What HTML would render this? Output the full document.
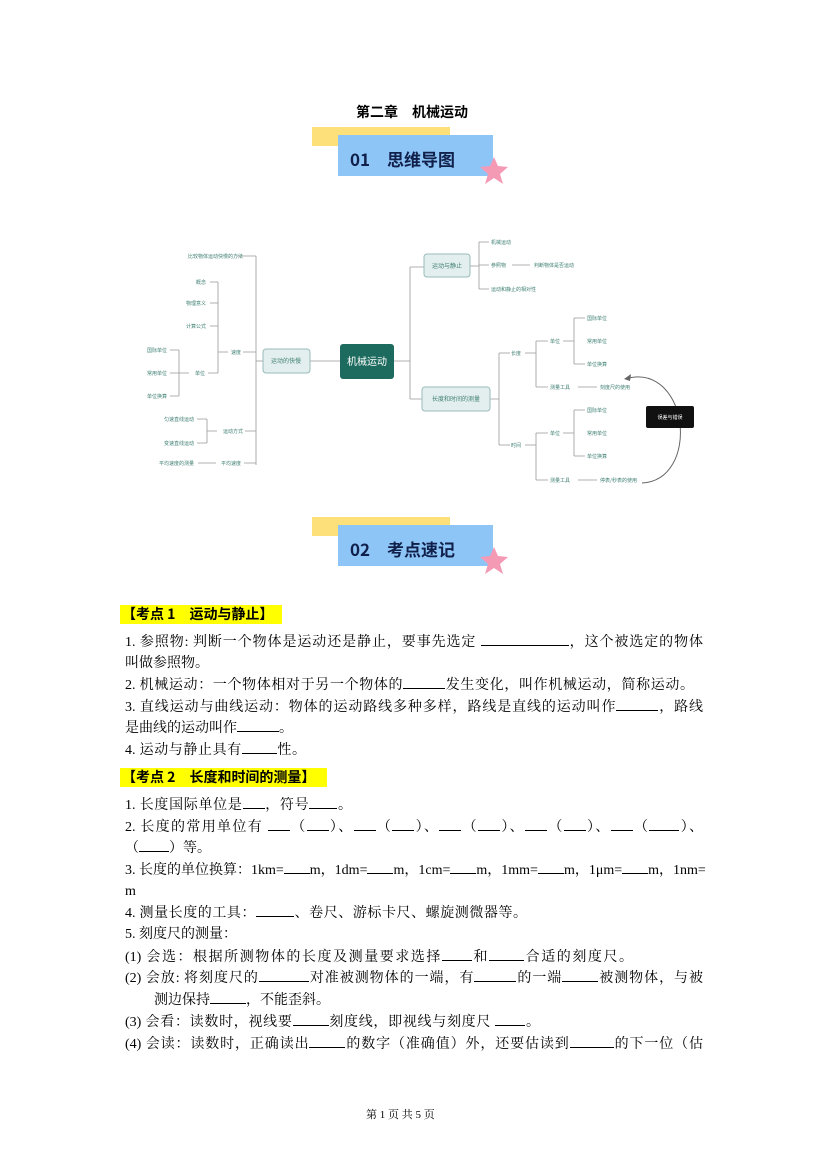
<!DOCTYPE html>
<html><head><meta charset="utf-8">
<style>
*{margin:0;padding:0}
body{width:827px;height:1169px;position:relative;background:#fff;font-family:"Liberation Serif","Noto Serif CJK SC","Noto Sans CJK SC",serif;color:#000;overflow:hidden}
.a{position:absolute;white-space:nowrap}
.t{font-size:14px;left:125px;line-height:18px}
.j{text-align:justify;text-align-last:justify}
.b{display:inline-block;border-bottom:1px solid #000;height:12px;vertical-align:baseline}
.h{background:#ffff00;font-weight:bold;font-size:14px;line-height:19px;padding:0 2px;font-family:"Noto Sans CJK SC",sans-serif}
.ban{position:absolute}
.mm text{font-family:"Noto Sans CJK SC",sans-serif;font-size:5px;fill:#3f7f72}
</style></head><body>
<div class="a" style="left:356px;top:102px;font-size:14px;font-weight:bold;font-family:'Noto Sans CJK SC',sans-serif">第二章　机械运动</div>

<div class="ban" style="left:312px;top:127px;width:138px;height:19px;background:#fde07a"></div>
<div class="ban" style="left:338px;top:135px;width:155px;height:41px;background:#8ec5f7"></div>
<div class="a" style="left:350px;top:146px;font-size:17px;font-weight:bold;color:#10204a;font-family:'Noto Sans CJK SC',sans-serif">01　思维导图</div>
<svg class="ban" style="left:478px;top:156px" width="32" height="30" viewBox="-15 -15 30 30"><polygon points="0,-14 4,-5 14,-4 6,3 9,13 0,7 -9,13 -6,3 -14,-4 -4,-5" fill="#f59ab5"/></svg>

<div class="ban" style="left:312px;top:517px;width:138px;height:19px;background:#fde07a"></div>
<div class="ban" style="left:338px;top:525px;width:155px;height:41px;background:#8ec5f7"></div>
<div class="a" style="left:350px;top:536px;font-size:17px;font-weight:bold;color:#10204a;font-family:'Noto Sans CJK SC',sans-serif">02　考点速记</div>
<svg class="ban" style="left:478px;top:546px" width="32" height="30" viewBox="-15 -15 30 30"><polygon points="0,-14 4,-5 14,-4 6,3 9,13 0,7 -9,13 -6,3 -14,-4 -4,-5" fill="#f59ab5"/></svg>

<svg class="mm" style="position:absolute;left:0;top:0" width="827" height="520">
<g stroke="#999" stroke-width="0.8" fill="none">
<path d="M340 361 H310"/><path d="M263 361 H256"/>
<path d="M256 256 V465"/><path d="M237 256 H256 M243 352 H256 M245 431 H256 M244 463 H256"/>
<path d="M218 282 V373 M210 282 H218 M210 303 H218 M210 326 H218 M208 373 H218 M218 352 H228"/>
<path d="M179 350 V396 M170 350 H179 M170 373 H189 M170 396 H179"/>
<path d="M207 419 V443 M197 419 H207 M197 443 H207 M207 431 H217"/>
<path d="M198 463 H216"/>
<path d="M394 361 H410 M410 267 V399 M410 267 H424 M410 399 H422"/>
<path d="M470 266 H479 M479 242 V289 M479 242 H489 M479 265 H489 M479 289 H489 M512 265 H530"/>
<path d="M490 399 H499 M499 353 V445 M499 353 H510 M499 445 H510"/>
<path d="M525 353 H536 M536 341 V387 M536 341 H548 M536 387 H548 M578 387 H597"/>
<path d="M563 341 H574 M574 318 V364 M574 318 H585 M574 364 H585"/>
<path d="M525 445 H536 M536 433 V480 M536 433 H548 M536 480 H548 M578 480 H597"/>
<path d="M563 433 H574 M574 410 V456 M574 410 H585 M574 456 H585"/>
<path d="M642 483 C700 480 690 365 628 378" stroke="#666" stroke-width="1"/>
</g>
<polygon points="624,379 631,374 630,381" fill="#666"/>
<rect x="340" y="344" width="54" height="35" rx="3" fill="#1d6b5e"/>
<text x="367" y="365" text-anchor="middle" style="font-size:10px;fill:#fff">机械运动</text>
<rect x="263" y="349" width="47" height="24" rx="3" fill="#e3efee" stroke="#9bb" stroke-width="1"/>
<text x="286" y="363" text-anchor="middle" style="font-size:6px">运动的快慢</text>
<rect x="424" y="254" width="46" height="23" rx="3" fill="#e3efee" stroke="#9bb" stroke-width="1"/>
<text x="447" y="268" text-anchor="middle" style="font-size:6px">运动与静止</text>
<rect x="422" y="387" width="68" height="24" rx="3" fill="#e3efee" stroke="#9bb" stroke-width="1"/>
<text x="456" y="401" text-anchor="middle" style="font-size:6px">长度和时间的测量</text>
<rect x="646" y="406" width="48" height="22" rx="2" fill="#111"/>
<text x="670" y="419" text-anchor="middle" style="fill:#fff">误差与错误</text>
<g text-anchor="end">
<text x="243" y="258">比较物体运动快慢的方法</text>
<text x="206" y="284">概念</text><text x="206" y="305">物理意义</text><text x="206" y="328">计算公式</text>
<text x="205" y="375">单位</text><text x="241" y="354">速度</text>
<text x="167" y="352">国际单位</text><text x="167" y="375">常用单位</text><text x="167" y="398">单位换算</text>
<text x="194" y="421">匀速直线运动</text><text x="194" y="445">变速直线运动</text>
<text x="243" y="433">运动方式</text><text x="241" y="465">平均速度</text><text x="194" y="465">平均速度的测量</text>
</g>
<text x="491" y="244">机械运动</text><text x="491" y="267">参照物</text><text x="534" y="267">判断物体是否运动</text><text x="491" y="291">运动和静止的相对性</text>
<text x="511" y="355">长度</text><text x="511" y="447">时间</text>
<text x="550" y="343">单位</text><text x="550" y="389">测量工具</text><text x="600" y="389">刻度尺的使用</text>
<text x="587" y="320">国际单位</text><text x="587" y="343">常用单位</text><text x="587" y="366">单位换算</text>
<text x="550" y="435">单位</text><text x="550" y="482">测量工具</text><text x="600" y="482">停表/秒表的使用</text>
<text x="587" y="412">国际单位</text><text x="587" y="435">常用单位</text><text x="587" y="458">单位换算</text>
</svg>

<div class="a h" style="left:120px;top:605px;width:158px">【考点 1　运动与静止】</div>
<div class="a t j" style="top:633px;width:578px">1. 参照物: 判断一个物体是运动还是静止，要事先选定 <span class="b" style="width:88px"></span>，这个被选定的物体</div>
<div class="a t" style="top:655px">叫做参照物。</div>
<div class="a t j" style="top:676px;width:569px">2. 机械运动：一个物体相对于另一个物体的<span class="b" style="width:42px"></span>发生变化，叫作机械运动，简称运动。</div>
<div class="a t j" style="top:698px;width:578px">3. 直线运动与曲线运动：物体的运动路线多种多样，路线是直线的运动叫作<span class="b" style="width:42px"></span>，路线</div>
<div class="a t" style="top:719px">是曲线的运动叫作<span class="b" style="width:42px"></span>。</div>
<div class="a t j" style="top:741px;width:181px">4. 运动与静止具有<span class="b" style="width:35px"></span>性。</div>

<div class="a h" style="left:120px;top:768px;width:203px">【考点 2　长度和时间的测量】</div>
<div class="a t j" style="top:796px;width:227px">1. 长度国际单位是<span class="b" style="width:22px"></span>，符号<span class="b" style="width:28px"></span>。</div>
<div class="a t j" style="top:818px;width:578px">2. 长度的常用单位有 <span class="b" style="width:22px"></span>（<span class="b" style="width:22px"></span>）、<span class="b" style="width:22px"></span>（<span class="b" style="width:22px"></span>）、<span class="b" style="width:22px"></span>（<span class="b" style="width:22px"></span>）、<span class="b" style="width:22px"></span>（<span class="b" style="width:22px"></span>）、<span class="b" style="width:22px"></span>（<span class="b" style="width:30px"></span>）、</div>
<div class="a t" style="top:839px">（<span class="b" style="width:30px"></span>）等。</div>
<div class="a t j" style="top:861px;width:580px">3. 长度的单位换算：1km=<span class="b" style="width:26px"></span>m，1dm=<span class="b" style="width:26px"></span>m，1cm=<span class="b" style="width:26px"></span>m，1mm=<span class="b" style="width:26px"></span>m，1μm=<span class="b" style="width:26px"></span>m，1nm=</div>
<div class="a t" style="top:883px">m</div>
<div class="a t j" style="top:904px;width:402px">4. 测量长度的工具：<span class="b" style="width:38px"></span>、卷尺、游标卡尺、螺旋测微器等。</div>
<div class="a t" style="top:926px">5. 刻度尺的测量：</div>
<div class="a t j" style="top:948px;width:508px">(1) 会选：根据所测物体的长度及测量要求选择<span class="b" style="width:30px"></span>和<span class="b" style="width:35px"></span>合适的刻度尺。</div>
<div class="a t j" style="top:969px;width:578px">(2) 会放: 将刻度尺的<span class="b" style="width:50px"></span>对准被测物体的一端，有<span class="b" style="width:42px"></span>的一端<span class="b" style="width:36px"></span>被测物体，与被</div>
<div class="a t j" style="top:991px;left:154px;width:175px">测边保持<span class="b" style="width:36px"></span>，不能歪斜。</div>
<div class="a t j" style="top:1013px;width:415px">(3) 会看：读数时，视线要<span class="b" style="width:36px"></span>刻度线，即视线与刻度尺 <span class="b" style="width:30px"></span>。</div>
<div class="a t j" style="top:1035px;width:578px">(4) 会读：读数时，正确读出<span class="b" style="width:36px"></span>的数字（准确值）外，还要估读到<span class="b" style="width:44px"></span>的下一位（估</div>

<div class="a" style="left:366px;top:1106px;font-size:11px">第 1 页 共 5 页</div>
</body></html>
